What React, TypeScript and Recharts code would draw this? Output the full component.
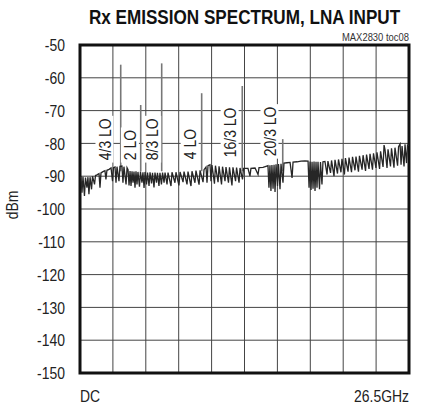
import React from "react";
import { LineChart, Line, XAxis, YAxis, CartesianGrid, ReferenceLine, ReferenceDot, ReferenceArea } from "recharts";

const FONT = "'Liberation Sans', Arial, sans-serif";
const SX = 0.82; // horizontal condensing for a Helvetica-Condensed look

const xTicks = [0, 2.65, 5.3, 7.95, 10.6, 13.25, 15.9, 18.55, 21.2, 23.85, 26.5];
const xTickLabels: Record<string, string> = { "0": "DC", "26.5": "26.5GHz" };
const yTicks = [-150, -140, -130, -120, -110, -100, -90, -80, -70, -60, -50];

// spurs: frequency (GHz) and peak level (dBm)
const spurFreq = [3.28, 4.89, 6.58, 9.8, 13.07, 16.33];
const spurPeak = [-56, -68.3, -55.6, -64.7, -62.5, -78.7];
const spurBase = -88.5;

// LO harmonic labels: text, centre frequency, bottom level
const loText = ["4/3 LO", "2 LO", "8/3 LO", "4 LO", "16/3 LO", "20/3 LO"];
const loFreq = [1.97, 4.02, 5.82, 8.83, 12.05, 15.26];
const loLevel = [-85.1, -85.1, -85.1, -84.8, -84.2, -83.9];

// noise floor trace, [GHz, dBm]
const traceLow: [number, number][] = [
  [0.0, -90.5], [0.08, -90.3], [0.16, -95.0], [0.24, -90.2], [0.36, -96.0], [0.44, -90.4],
  [0.56, -93.5], [0.64, -90.3], [0.72, -95.5], [0.81, -90.3], [0.93, -94.0], [1.01, -90.0],
  [1.17, -92.5], [1.25, -89.8], [1.37, -89.6], [1.53, -89.2], [1.61, -93.5], [1.69, -89.0],
  [1.85, -88.6], [2.01, -88.3], [2.09, -91.0], [2.17, -88.2], [2.34, -87.9], [2.5, -87.5],
  [2.62, -91.5], [2.7, -87.4], [2.82, -87.2], [2.9, -92.0], [2.98, -87.1], [3.14, -91.5],
  [3.22, -87.0], [3.38, -86.9], [3.46, -92.0], [3.54, -87.1], [3.71, -92.5], [3.79, -87.4],
  [3.87, -88.0],
];
const traceDense: [number, number][] = [
  [3.95, -92.8], [4.03, -88.4], [4.11, -93.0], [4.19, -88.5], [4.27, -92.0], [4.35, -88.6],
  [4.43, -93.5], [4.51, -88.5], [4.59, -92.5], [4.67, -88.7], [4.79, -93.2], [4.87, -88.6],
  [4.99, -92.0], [5.07, -88.8], [5.16, -93.6], [5.24, -88.7], [5.36, -92.5], [5.44, -88.9],
  [5.56, -93.0], [5.64, -88.8], [5.76, -92.2], [5.84, -89.0], [5.96, -93.4], [6.04, -88.9],
  [6.16, -92.0], [6.24, -89.0], [6.36, -93.0], [6.44, -89.0], [6.56, -92.5], [6.65, -88.9],
  [6.77, -92.0], [6.85, -88.9],
];
const traceMid: [number, number][] = [
  [7.01, -92.5], [7.09, -88.9], [7.33, -93.0], [7.41, -88.8], [7.65, -92.0], [7.73, -88.8],
  [7.97, -92.8], [8.06, -88.7], [8.3, -91.8], [8.38, -88.6], [8.62, -92.5], [8.7, -88.6],
  [8.94, -93.0], [9.02, -88.5], [9.26, -92.0], [9.34, -88.3], [9.59, -92.6], [9.67, -88.2],
  [9.91, -91.8], [9.99, -88.0], [10.15, -87.2], [10.23, -92.0], [10.31, -86.8], [10.47, -86.5],
  [10.55, -91.5], [10.63, -86.6], [10.83, -92.3], [10.91, -86.8], [11.12, -91.8], [11.2, -87.0],
  [11.4, -92.5], [11.48, -87.1], [11.68, -91.5], [11.76, -87.2], [11.96, -92.0], [12.04, -87.3],
  [12.24, -92.8], [12.32, -87.3], [12.53, -91.5], [12.61, -87.4], [12.81, -92.0], [12.89, -87.5],
  [13.09, -91.0], [13.17, -87.6], [13.29, -87.6],
];
const traceUpper: [number, number][] = [
  [13.53, -87.6], [13.69, -90.0], [13.77, -87.6], [14.1, -87.5], [14.34, -89.5], [14.42, -87.4],
  [14.74, -87.3], [14.98, -87.0], [15.14, -86.8], [15.22, -93.5], [15.3, -86.7], [15.38, -94.5],
  [15.46, -86.6], [15.55, -93.8], [15.63, -86.5], [15.71, -94.8], [15.79, -86.4], [15.91, -93.0],
  [15.99, -86.3], [16.11, -94.0], [16.19, -86.2], [16.35, -92.0], [16.43, -86.0], [16.67, -85.9],
  [16.92, -85.8], [17.08, -90.5], [17.16, -85.7], [17.48, -85.6], [17.8, -85.4], [18.12, -85.3],
  [18.37, -85.4], [18.45, -93.5], [18.53, -85.5], [18.61, -94.2], [18.69, -85.6], [18.77, -93.8],
  [18.85, -85.5], [18.93, -94.5], [19.01, -85.6], [19.09, -93.5], [19.17, -85.6], [19.29, -94.0],
  [19.37, -85.7], [19.49, -92.5], [19.57, -85.6], [19.73, -85.5],
];
const traceTop: [number, number][] = [
  [19.9, -89.5], [19.97, -85.4], [20.18, -89.0], [20.26, -85.2], [20.46, -90.0], [20.54, -85.0],
  [20.74, -89.2], [20.82, -84.9], [21.02, -88.8], [21.1, -84.7], [21.3, -89.5], [21.38, -84.5],
  [21.59, -88.6], [21.67, -84.3], [21.87, -88.8], [21.95, -84.1], [22.15, -88.2], [22.23, -84.0],
  [22.43, -88.6], [22.51, -83.8], [22.72, -88.0], [22.8, -83.6], [23.0, -88.4], [23.08, -83.4],
  [23.28, -87.8], [23.36, -83.2], [23.56, -88.0], [23.64, -83.0], [23.84, -87.5], [23.92, -82.7],
  [24.13, -87.8], [24.21, -82.4], [24.41, -87.2], [24.49, -80.5], [24.57, -82.0], [24.73, -87.5],
  [24.81, -81.8], [25.01, -87.0], [25.09, -81.5], [25.29, -87.4], [25.37, -81.3], [25.58, -86.8],
  [25.66, -81.0], [25.78, -80.2], [25.86, -86.5], [25.94, -80.8], [26.1, -87.0], [26.18, -80.3],
  [26.3, -86.0], [26.38, -80.5], [26.5, -80.6],
];

const trace = [...traceLow, ...traceDense, ...traceMid, ...traceUpper, ...traceTop].map(([f, v]) => ({ f, v }));

let ctx: CanvasRenderingContext2D | null = null;
function measure(text: string, font: string): number {
  if (!ctx) ctx = document.createElement("canvas").getContext("2d");
  if (!ctx) return text.length * 9;
  ctx.font = font;
  return ctx.measureText(text).width;
}

const FS = 17;

function LoLabel(props: any) {
  const { cx, cy, text } = props;
  if (cx == null || cy == null) return <g />;
  const w = measure(text, `${FS}px 'Liberation Sans', Arial, sans-serif`);
  return (
    <g transform={`translate(${cx},${cy}) rotate(-90) scale(${SX},1)`}>
      <rect x={-3} y={-9} width={w + 6} height={18} fill="#fff" />
      <text x={0} y={0} dy="0.36em" textAnchor="start" fontSize={FS} fontFamily={FONT} fill="#222">
        {text}
      </text>
    </g>
  );
}

function XTick(props: any) {
  const { x, payload } = props;
  const label = xTickLabels[String(payload.value)];
  if (!label) return <g />;
  const anchor = payload.value === 0 ? "start" : "end";
  return (
    <text transform={`translate(${x},402) scale(${SX},1)`} textAnchor={anchor} fontSize={FS} fontFamily={FONT} fill="#222">
      {label}
    </text>
  );
}

function YTick(props: any) {
  const { x, y, payload } = props;
  return (
    <text transform={`translate(${x},${y}) scale(${SX},1)`} dy="0.36em" textAnchor="end" fontSize={FS} fontFamily={FONT} fill="#222">
      {payload.value}
    </text>
  );
}

export default function App() {
  return (
    <div style={{ position: "absolute", left: 0, top: 0, width: 422, height: 406, background: "#fff" }}>
      <LineChart width={422} height={406} data={trace} margin={{ top: 45, right: 13, bottom: 0, left: 0 }}>
        <CartesianGrid stroke="#444" strokeWidth={1} vertical horizontal />
        <XAxis
          type="number"
          dataKey="f"
          domain={[0, 26.5]}
          ticks={xTicks}
          interval={0}
          height={33}
          tickLine={false}
          axisLine={false}
          tick={<XTick />}
          allowDataOverflow
        />
        <YAxis
          type="number"
          domain={[-150, -50]}
          ticks={yTicks}
          interval={0}
          width={80}
          tickLine={false}
          axisLine={false}
          tickMargin={9}
          tick={<YTick />}
          allowDataOverflow
        />
        {spurFreq.map((f, i) => (
          <ReferenceLine
            key={"s" + i}
            segment={[{ x: f, y: spurBase }, { x: f, y: spurPeak[i] }]}
            stroke="#777"
            strokeWidth={1.6}
          />
        ))}
        <Line
          type="linear"
          dataKey="v"
          stroke="#262626"
          strokeWidth={1.3}
          dot={false}
          isAnimationActive={false}
        />
        {loText.map((t, i) => (
          <ReferenceDot
            key={"l" + i}
            x={loFreq[i]}
            y={loLevel[i]}
            r={0}
            shape={(p: any) => <LoLabel {...p} text={t} />}
          />
        ))}
        <ReferenceArea x1={0} x2={26.5} y1={-150} y2={-50} fill="none" fillOpacity={0} stroke="#111" strokeWidth={3} />
      </LineChart>
      <svg width={422} height={406} style={{ position: "absolute", left: 0, top: 0, pointerEvents: "none" }}>
        <text transform="translate(244.5,24) scale(0.856,1)" textAnchor="middle" fontSize={20} fontWeight="bold" fontFamily={FONT} fill="#111">
          Rx EMISSION SPECTRUM, LNA INPUT
        </text>
        <text transform={`translate(409,41) scale(${SX},1)`} textAnchor="end" fontSize={11.5} fontFamily={FONT} fill="#333">
          MAX2830 toc08
        </text>
        <text transform={`translate(12,205) rotate(-90) scale(${SX},1)`} textAnchor="middle" dy="0.36em" fontSize={FS} fontFamily={FONT} fill="#222">
          dBm
        </text>
      </svg>
    </div>
  );
}
